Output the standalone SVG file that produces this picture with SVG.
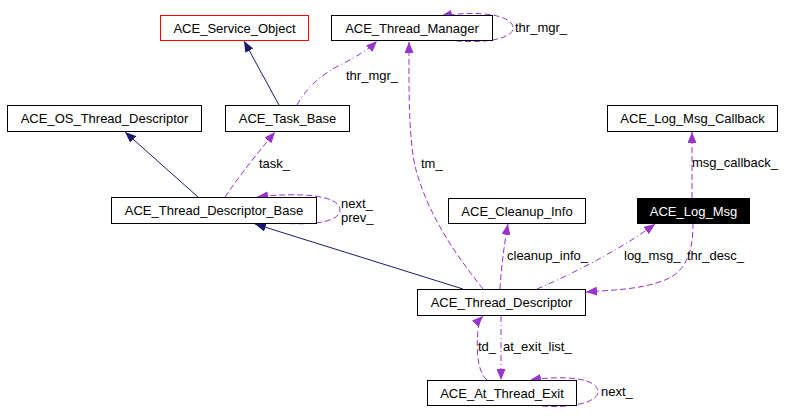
<svg xmlns="http://www.w3.org/2000/svg" width="788" height="420" viewBox="0 0 788 420">
<style>
text{font-family:"Liberation Sans",Arial,sans-serif;font-size:13px;fill:#000}
.n rect{fill:#fff;stroke:#000;stroke-width:1}
.n text{text-anchor:middle}
.inh{fill:none;stroke:#191970;stroke-width:1;marker-end:url(#an)}
.use{fill:none;stroke:#9a32cd;stroke-width:1;stroke-dasharray:6,3;marker-end:url(#ap)}
.usd{fill:none;stroke:#9a32cd;stroke-width:1;stroke-dasharray:6,3,1,3;marker-end:url(#ap)}
</style>
<defs>
<marker id="an" viewBox="0 0 11 9" refX="11" refY="4.5" markerWidth="11" markerHeight="9" markerUnits="userSpaceOnUse" orient="auto"><path d="M0,0L11,4.5L0,9z" fill="#191970"/></marker>
<marker id="ap" viewBox="0 0 11 9" refX="11" refY="4.5" markerWidth="11" markerHeight="9" markerUnits="userSpaceOnUse" orient="auto"><path d="M0,0L11,4.5L0,9z" fill="#9a32cd"/></marker>
</defs>
<rect width="788" height="420" fill="#fff"/>
<g id="edges">
<path class="inh" d="M279,105 L244,41"/>
<path class="usd" d="M297,105 C305,90 320,75 340,65 C360,55 370,48 377,41"/>
<path class="use" d="M447,40 C490,45 515,37 513,27 C511,15 480,10 441,16"/>
<path class="use" d="M483,289 C460,260 430,220 416,170 C408,140 409,80 409,42"/>
<path class="inh" d="M198,197 L125,132"/>
<path class="use" d="M225,197 C240,175 260,150 275,132"/>
<path class="use" d="M280,223 C320,226 340,220 340,210 C340,195 300,192 257,197"/>
<path class="inh" d="M463,289 L255,224"/>
<path class="use" d="M500,289 C501,270 504,245 508,224"/>
<path class="usd" d="M537,289 C570,275 620,250 655,224"/>
<path class="use" d="M692,198 L692,132"/>
<path class="use" d="M693,223 C693,245 690,270 665,280 C640,290 610,290 586,292"/>
<path class="use" d="M487,380 C475,370 477,340 478,330 C479,322 481,318 483,316"/>
<path class="usd" d="M501,316 L501,380"/>
<path class="use" d="M533,405 C570,410 598,402 598,392 C598,378 565,375 530,380"/>
<text x="346" y="80">thr_mgr_</text>
<text x="515" y="32">thr_mgr_</text>
<text x="421" y="168">tm_</text>
<text x="259" y="168">task_</text>
<text x="341" y="208">next_</text>
<text x="341" y="222">prev_</text>
<text x="507" y="260">cleanup_info_</text>
<text x="624" y="260">log_msg_</text>
<text x="687" y="260">thr_desc_</text>
<text x="692" y="167">msg_callback_</text>
<text x="478" y="351">td_</text>
<text x="503" y="351">at_exit_list_</text>
<text x="601" y="396">next_</text>
</g>
<g id="ACE_Service_Object" class="n"><rect x="160.5" y="15.5" width="148" height="25" style="stroke:#ff0000"/><text x="234.5" y="32.5">ACE_Service_Object</text></g>
<g id="ACE_Thread_Manager" class="n"><rect x="331.5" y="15.5" width="161" height="25"/><text x="412" y="32.5">ACE_Thread_Manager</text></g>
<g id="ACE_OS_Thread_Descriptor" class="n"><rect x="7.5" y="105.5" width="194" height="26"/><text x="104.5" y="123">ACE_OS_Thread_Descriptor</text></g>
<g id="ACE_Task_Base" class="n"><rect x="225.5" y="105.5" width="124" height="26"/><text x="287.5" y="123">ACE_Task_Base</text></g>
<g id="ACE_Log_Msg_Callback" class="n"><rect x="607.5" y="105.5" width="170" height="26"/><text x="692.5" y="123">ACE_Log_Msg_Callback</text></g>
<g id="ACE_Thread_Descriptor_Base" class="n"><rect x="111.5" y="197.5" width="205" height="26"/><text x="214" y="215">ACE_Thread_Descriptor_Base</text></g>
<g id="ACE_Cleanup_Info" class="n"><rect x="448.5" y="198.5" width="137" height="25"/><text x="517" y="215.5">ACE_Cleanup_Info</text></g>
<g id="ACE_Log_Msg" class="n"><rect x="637.5" y="198.5" width="112" height="25" style="fill:#000"/><text x="693.5" y="215.5" style="fill:#fff">ACE_Log_Msg</text></g>
<g id="ACE_Thread_Descriptor" class="n"><rect x="417.5" y="289.5" width="168" height="26"/><text x="501.5" y="307">ACE_Thread_Descriptor</text></g>
<g id="ACE_At_Thread_Exit" class="n"><rect x="427.5" y="380.5" width="149" height="25"/><text x="502" y="397.5">ACE_At_Thread_Exit</text></g>
</svg>
